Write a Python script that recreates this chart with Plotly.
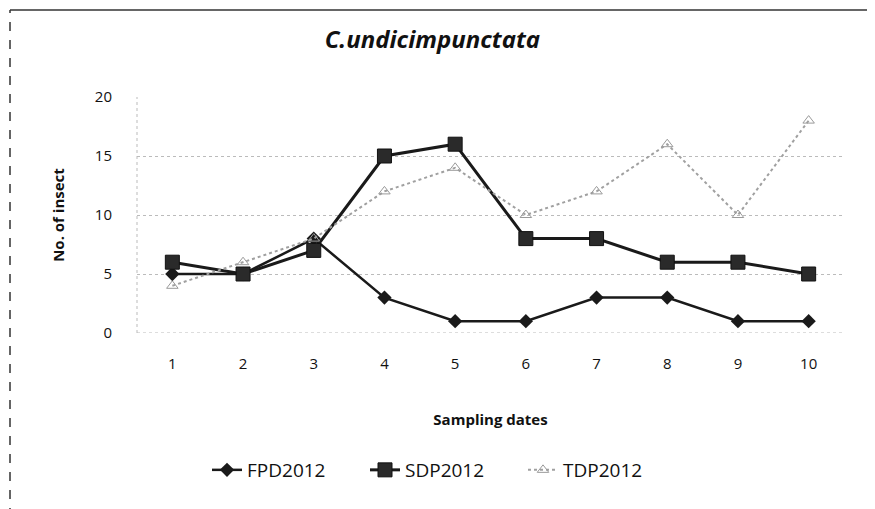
import plotly.graph_objects as go

dates = [1, 2, 3, 4, 5, 6, 7, 8, 9, 10]
fpd2012 = [5, 5, 8, 3, 1, 1, 3, 3, 1, 1]
sdp2012 = [6, 5, 7, 15, 16, 8, 8, 6, 6, 5]
tdp2012 = [4, 6, 8, 12, 14, 10, 12, 16, 10, 18]
y_ticks = [0, 5, 10, 15, 20]

fig = go.Figure()
fig.add_trace(go.Scatter(x=dates, y=fpd2012, name="FPD2012", mode="lines+markers",
                         line=dict(color="#1a1a1a", width=2.5),
                         marker=dict(symbol="diamond", size=11, color="#1a1a1a")))
fig.add_trace(go.Scatter(x=dates, y=sdp2012, name="SDP2012", mode="lines+markers",
                         line=dict(color="#1a1a1a", width=3),
                         marker=dict(symbol="square", size=14, color="#2a2a2a",
                                     line=dict(color="#111", width=1))))
fig.add_trace(go.Scatter(x=dates, y=tdp2012, name="TDP2012", mode="lines+markers",
                         line=dict(color="#a0a0a0", width=2, dash="dot"),
                         marker=dict(symbol="triangle-up-open", size=10, color="#9a9a9a")))

font_family = "Open Sans, Liberation Sans, sans-serif"
L, T, R, B = 129, 89, 39, 184
PW, PH = 875 - L - R, 509 - T - B
fig.update_layout(
    width=875, height=509,
    paper_bgcolor="white", plot_bgcolor="white",
    margin=dict(l=L, r=R, t=T, b=B),
    title=dict(text="<b><i>C.undicimpunctata</i></b>", x=0.485, xanchor="center",
               y=1 - 32 / 509, yanchor="middle",
               font=dict(family=font_family, size=24, color="#111")),
    font=dict(family=font_family, color="#111"),
    showlegend=True,
    legend=dict(orientation="h", x=(199 - L) / PW, xanchor="left", y=-137 / PH, yanchor="middle",
                font=dict(size=19), entrywidth=113, entrywidthmode="pixels"),
    xaxis=dict(range=[0.5, 10.5], tickmode="array", tickvals=dates,
               ticktext=[str(d) for d in dates], showgrid=False, zeroline=False,
               showline=False, ticks="", tickfont=dict(size=15),
               ticklabelstandoff=20,
               title=dict(text="<b>Sampling dates</b>", font=dict(size=15), standoff=42)),
    yaxis=dict(range=[0, 20], tickmode="array", tickvals=y_ticks,
               showgrid=True, gridcolor="#bbbbbb", griddash="dot", gridwidth=1,
               zeroline=False, showline=False, ticks="", tickfont=dict(size=15),
               ticklabelstandoff=24,
               title=dict(text="<b>No. of insect</b>", font=dict(size=15), standoff=26)),
    shapes=[
        dict(type="line", xref="paper", yref="y", x0=0, x1=0, y0=0, y1=20,
             line=dict(color="#bbbbbb", width=1, dash="dot")),
        dict(type="line", xref="paper", yref="y", x0=0, x1=1, y0=0, y1=0,
             line=dict(color="#bbbbbb", width=1, dash="dot")),
        dict(type="line", xref="paper", yref="paper", x0=-(L - 2) / PW, x1=1 + R / PW,
             y0=1 + (T - 2) / PH, y1=1 + (T - 2) / PH,
             line=dict(color="#333", width=1.5)),
        dict(type="line", xref="paper", yref="paper", x0=-(L - 2) / PW, x1=-(L - 2) / PW,
             y0=-B / PH, y1=1 + (T - 2) / PH,
             line=dict(color="#333", width=1.5, dash="dash")),
    ],
)
fig.write_html("out.html")
